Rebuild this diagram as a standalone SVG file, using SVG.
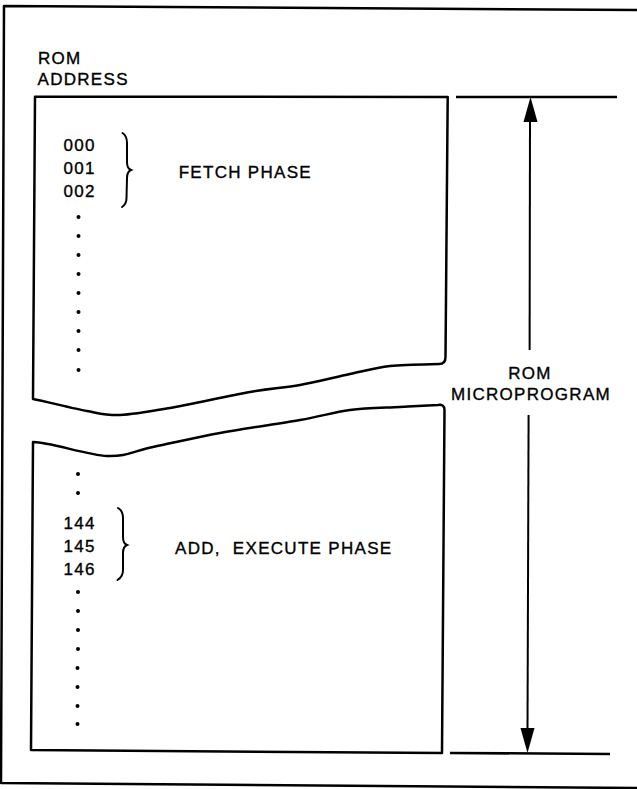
<svg xmlns="http://www.w3.org/2000/svg" width="637" height="789" viewBox="0 0 637 789">
<style>
  .ln{fill:none;stroke:#000;stroke-width:2.5;stroke-linejoin:round;stroke-linecap:butt}
  .thin{fill:none;stroke:#000;stroke-width:2}
  .brace{fill:none;stroke:#000;stroke-width:2;stroke-linecap:round}
  .dot{fill:#000}
  .head{fill:#000;stroke:none}
  text{font-family:"Liberation Sans",Arial,Helvetica,sans-serif;font-size:17px;letter-spacing:1.3px;fill:#000;stroke:#000;stroke-width:0.35px}
  .mid{text-anchor:middle}
</style>
<rect width="637" height="789" fill="#fff"/>
<g id="frame">
  <path class="ln" d="M637,10 L4,6 L1,783 L637,788"/>
</g>
<g id="rom-address-label">
  <text x="38" y="64">ROM</text>
  <text x="37.5" y="85">ADDRESS</text>
</g>
<g id="upper-block">
  <path class="ln" d="M447.7,97 L35,96.7 L33,399 C43.7,401 72.8,408.3 87,411 C101.2,413.7 106.2,415.5 120,415 C133.8,414.5 148.3,411.8 170,408 C191.7,404.2 228.3,395.8 250,392 C271.7,388.2 283.3,388 300,385 C316.7,382 335,377.2 350,374 C365,370.8 375,367.7 390,366 C405,364.3 425,364.3 439,364 Q445.5,364 445.5,357 Z"/>
  <text x="63.5" y="150.5">000</text>
  <text x="63.5" y="174">001</text>
  <text x="63.5" y="197">002</text>
  <path class="brace" d="M122.5,133 C126,135 127,138 127,143 L127,162 C127,166 128.5,169 131,170 C128.5,171 127,174 127,178 L126.5,198 C126.5,202 125,205 122,207"/>
  <text x="178.7" y="178">FETCH PHASE</text>
  <g class="dot">
    <circle cx="78.5" cy="217" r="2"/>
    <circle cx="78.5" cy="236" r="2"/>
    <circle cx="78.5" cy="255" r="2"/>
    <circle cx="78.5" cy="274" r="2"/>
    <circle cx="78.5" cy="293" r="2"/>
    <circle cx="78.5" cy="312" r="2"/>
    <circle cx="78.5" cy="331" r="2"/>
    <circle cx="78.5" cy="350" r="2"/>
    <circle cx="78.5" cy="370" r="2"/>
  </g>
</g>
<g id="lower-block">
  <path class="ln" d="M31,750 L33,442 C48,441.5 87.3,455.2 107,456 C126.7,456.8 134.2,450.8 153,447 C171.8,443.2 195.5,437.5 220,433 C244.5,428.5 278.3,423.8 300,420 C321.7,416.2 333.3,412.2 350,410 C366.7,407.8 385.3,407.8 400,407 C414.7,406.2 431.7,405.3 438,405 Q444.5,404 444.5,410 L442,753 Z"/>
  <g class="dot">
    <circle cx="78" cy="474" r="2"/>
    <circle cx="78" cy="493" r="2"/>
    <circle cx="78" cy="592" r="2"/>
    <circle cx="78" cy="611" r="2"/>
    <circle cx="78" cy="630" r="2"/>
    <circle cx="78" cy="649" r="2"/>
    <circle cx="77.5" cy="668" r="2"/>
    <circle cx="77.5" cy="687" r="2"/>
    <circle cx="77.5" cy="706" r="2"/>
    <circle cx="77.5" cy="724" r="2"/>
  </g>
  <text x="63.5" y="529">144</text>
  <text x="63.5" y="552">145</text>
  <text x="63.5" y="575">146</text>
  <path class="brace" d="M118,508 C121.5,510 123,513 123,518 L123,537 C123,541 124.5,544 127,545 C124.5,546 123,549 123,553 L123,570 C123,575 121,578 117.5,580"/>
  <text x="175" y="554" xml:space="preserve">ADD,  EXECUTE PHASE</text>
</g>
<g id="microprogram-label">
  <text class="mid" x="530" y="379">ROM</text>
  <text class="mid" x="531" y="400">MICROPROGRAM</text>
</g>
<g id="connectors">
  <path class="ln" d="M456,97 L617,97"/>
  <path class="ln" d="M450,753 L610,754"/>
  <path class="thin" d="M530,120 L529.6,350"/>
  <path class="thin" d="M528.6,415 L527.5,730"/>
  <polygon class="head" points="530.5,97 523.5,122 537.5,122"/>
  <polygon class="head" points="527.5,753 520.5,728 534.5,728"/>
</g>
</svg>
